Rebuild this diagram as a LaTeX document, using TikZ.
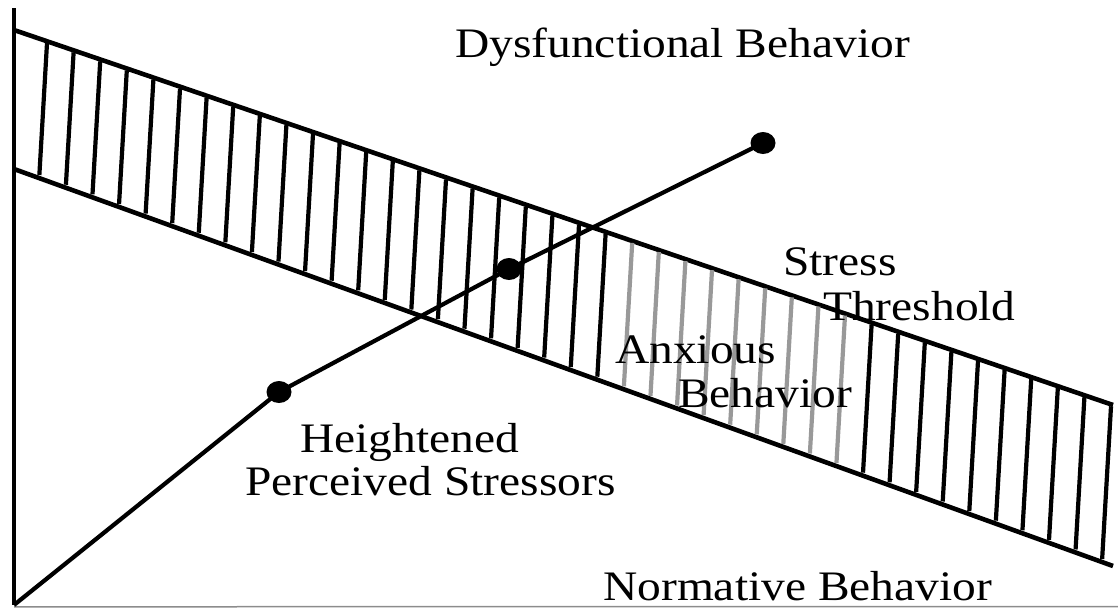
\documentclass[tikz,border=0pt]{standalone}
\usepackage{fontspec}
\usetikzlibrary{shapes.geometric}
\setmainfont{Liberation Serif}
\newcommand{\wide}[1]{\scalebox{1.13}[1]{#1}}
\newcommand{\myhatch}[2]{%
  \pgfmathsetmacro\xt{47+26.6*#1}%
  \pgfmathsetmacro\yt{30+0.3412*(\xt-14)+2}%
  \pgfmathsetmacro\hh{(169+0.3612*(\xt-14)-3-\yt)/1.021}%
  \pgfmathsetmacro\xb{\xt-0.058*\hh}%
  \pgfmathsetmacro\yb{\yt+\hh}%
  \draw[#2] (\xt,\yt) -- (\xb,\yb);}
\begin{document}
\begin{tikzpicture}[x=1pt,y=-1pt,
  axisline/.style={line width=3.6pt},
  band/.style={line width=4.6pt},
  hblack/.style={line width=4.2pt, black},
  hgray/.style={line width=4.2pt, black!40},
  lbl/.style={inner sep=0pt, anchor=base west, font=\fontsize{42}{48}\selectfont},
  dot/.style={ellipse, fill=black, inner sep=0pt, minimum width=25pt, minimum height=22pt},
  stress/.style={line width=4.2pt}]
\useasboundingbox (0,0) rectangle (1118,608);
% axes
\coordinate (ytop) at (14,8);
\coordinate (orig) at (14,605);
\coordinate (xend) at (1118,606.5);
\draw[axisline] (ytop) -- (orig);
\draw[line width=1.5pt, black!45] (14,606.8) -- (xend);
% band
\coordinate (ul) at (14,30);
\coordinate (ur) at (1113,405);
\coordinate (ll) at (14,169);
\coordinate (lr) at (1113,566);
\draw[band] (ul) -- (ur);
\draw[band] (ll) -- (lr);
% hatching
\foreach \i in {0,...,21}{\myhatch{\i}{hblack}}
\foreach \i in {22,...,30}{\myhatch{\i}{hgray}}
\foreach \i in {31,...,40}{\myhatch{\i}{hblack}}
% stressor line
\node[dot] (d1) at (279,392) {};
\node[dot] (d2) at (509,269) {};
\node[dot] (d3) at (763,143) {};
\draw[stress] (orig) -- (d1.center) -- (d2.center) -- (d3.center);
% labels
\node[lbl] (dys) at (455,57) {\wide{Dysfunctional Behavior}};
\node[lbl] (st1) at (783,275) {\wide{Stress}};
\node[lbl] (st2) at (823,320) {\wide{Threshold}};
\node[lbl] (ax1) at (615,363) {\wide{Anxious}};
\node[lbl] (ax2) at (678,407) {\wide{Behavior}};
\node[lbl] (hp1) at (300,452) {\wide{Heightened}};
\node[lbl] (hp2) at (245,495) {\wide{Perceived Stressors}};
\node[lbl] (nb) at (603,600) {\wide{Normative Behavior}};
\end{tikzpicture}
\end{document}
